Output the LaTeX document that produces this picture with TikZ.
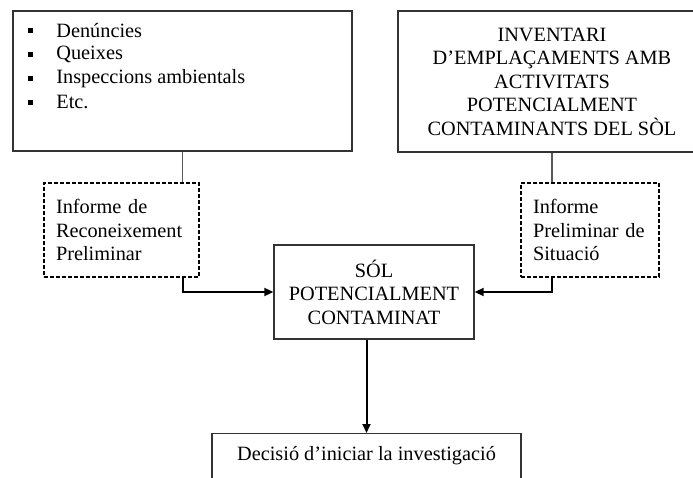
\documentclass[tikz,border=0pt]{standalone}
\usepackage{fontspec}
\setmainfont{Liberation Serif}
\usetikzlibrary{positioning, arrows.meta}

\begin{document}
\begin{tikzpicture}[x=1pt, y=-1pt,
    lletra/.style={font=\fontsize{20.3}{23.5}\selectfont},
    caixa/.style={draw=black!80, line width=1.4pt, lletra, align=center, inner sep=0pt},
    informe/.style={draw=black, line width=2pt, dash pattern=on 4pt off 2pt, lletra, align=left,
        inner xsep=12pt, inner ysep=0pt, minimum height=94pt},
    marca/.style={fill=black, inner sep=0pt, minimum size=5pt},
    element/.style={lletra, inner sep=0pt},
    fil/.style={draw=black!65, line width=1.8pt},
    fletxa/.style={draw=black, line width=2pt, -{Triangle[length=9pt, width=8pt]}}]
    \useasboundingbox (0,0) rectangle (693,478);
    \clip (0,0) rectangle (693,478);
    \node[caixa, minimum width=339pt, minimum height=140pt] (fonts) at (182.5,81) {};
    \foreach \txt [count=\i] in {Denúncies, Queixes, Inspeccions ambientals, Etc.}
        {\node[marca] (m\i) at (30,7.3+23.7*\i) {};
         \node[element, right=23.5pt of m\i] (t\i) {\txt};}
    \node[caixa, minimum width=308pt, minimum height=141pt] (inventari) at (552,81.5)
        {INVENTARI\\D’EMPLAÇAMENTS AMB\\ACTIVITATS\\POTENCIALMENT\\CONTAMINANTS DEL SÒL};
    \node[informe, text width=131pt, minimum width=155pt] (reconeixement) at (121.5,230)
        {Informe de\\Reconeixement\\Preliminar};
    \node[informe, text width=114pt, minimum width=138pt] (situacio) at (590,230)
        {Informe\\Preliminar de\\Situació};
    \node[caixa, minimum width=200pt, minimum height=94pt] (sol) at (374,292)
        {SÓL\\POTENCIALMENT\\CONTAMINAT};
    \node[caixa, anchor=north, minimum width=309pt, inner ysep=4pt, text height=23pt, text depth=30pt]
        (decisio) at (366.5,433) {Decisió d’iniciar la investigació};
    \draw[fil] (fonts.south) -- (fonts.south |- reconeixement.north);
    \draw[fil] (inventari.south) -- (inventari.south |- situacio.north);
    \draw[fletxa] (reconeixement.south -| fonts.south) |- (sol.west);
    \draw[fletxa] (situacio.south -| inventari.south) |- (sol.east);
    \draw[fletxa] (sol.south -| decisio.north) -- (decisio.north);
\end{tikzpicture}
\end{document}
